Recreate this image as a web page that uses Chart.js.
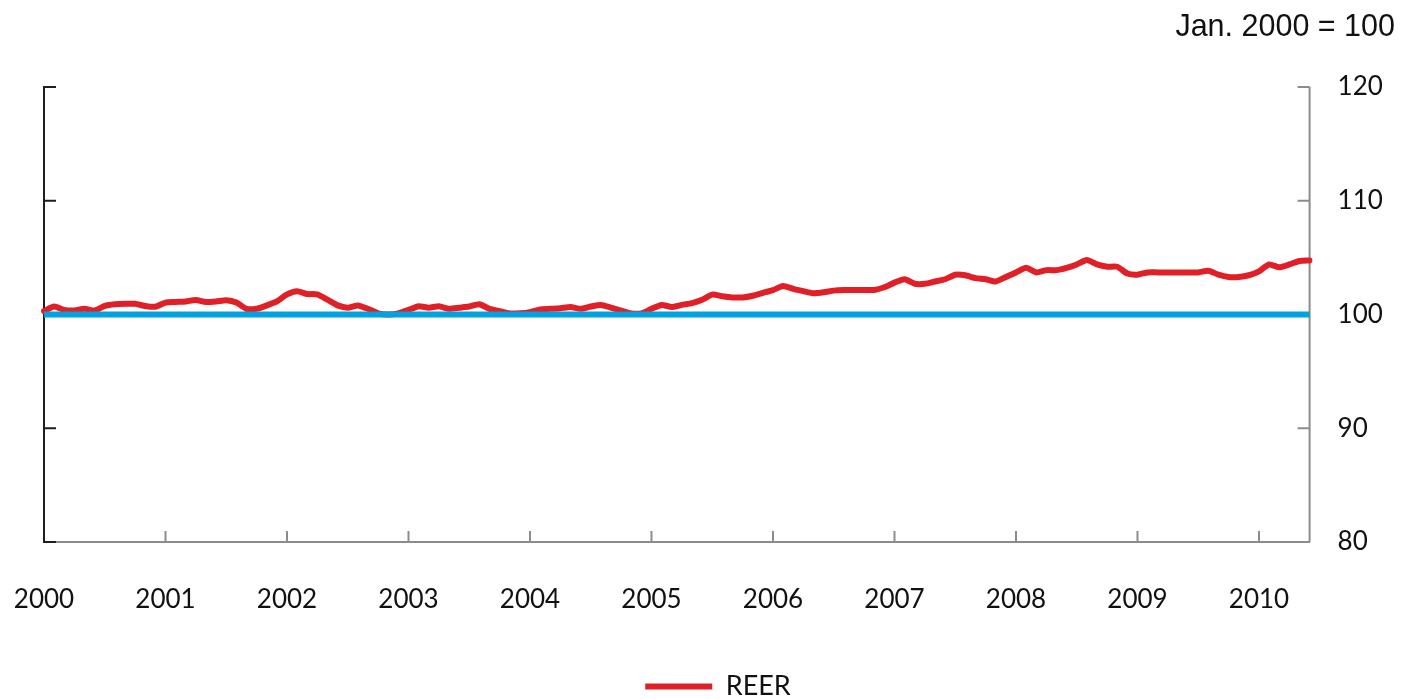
<!DOCTYPE html>
<html><head><meta charset="utf-8">
<script src="https://cdn.jsdelivr.net/npm/chart.js@4.4.1/dist/chart.umd.min.js"></script>
<style>html,body{margin:0;padding:0;background:#fff;} #wrap{width:1406px;height:699px;position:relative;}</style>
</head><body><div id="wrap"><canvas id="c" width="1406" height="699"></canvas></div>
<script>
// ---- data ----
const years = ['2000','2001','2002','2003','2004','2005','2006','2007','2008','2009','2010'];
const lastMonthOf2010 = 6; // data runs to June 2010
const unitNote = 'Jan. 2000 = 100';
const yTicks = [80, 90, 100, 110, 120];
const baseLevel = 100;

// REER, monthly, Jan 2000 - Jun 2010
const reer = [
  100.3,100.7,100.4,100.35,100.5,100.35,100.75,100.9,100.94,100.94,100.75,100.68,
  101.05,101.1,101.15,101.27,101.1,101.15,101.25,101.05,100.5,100.5,100.8,101.15,
  101.77,102.05,101.8,101.77,101.3,100.8,100.6,100.8,100.5,100.1,100.0,100.1,
  100.4,100.73,100.6,100.73,100.5,100.6,100.7,100.9,100.5,100.3,100.1,100.1,
  100.2,100.45,100.5,100.55,100.66,100.5,100.7,100.84,100.6,100.35,100.1,100.1,
  100.5,100.84,100.66,100.85,101.0,101.3,101.75,101.6,101.5,101.5,101.65,101.9,
  102.15,102.5,102.25,102.05,101.87,101.95,102.1,102.16,102.16,102.16,102.16,102.4,
  102.8,103.1,102.7,102.7,102.9,103.1,103.5,103.45,103.2,103.1,102.9,103.3,
  103.7,104.1,103.7,103.9,103.9,104.1,104.4,104.8,104.4,104.2,104.2,103.6,
  103.5,103.7,103.7,103.7,103.7,103.7,103.7,103.85,103.5,103.3,103.3,103.45,
  103.8,104.4,104.15,104.4,104.7,104.75
];

// month categories
const months = [];
years.forEach((yr, yi) => {
  const n = (yi === years.length - 1) ? lastMonthOf2010 : 12;
  for (let m = 1; m <= n; m++) months.push(yr + '-' + String(m).padStart(2, '0'));
});

// baseline (Jan. 2000 = 100) drawn from first to last month
const baseline = [
  { x: months[0], y: baseLevel },
  { x: months[months.length - 1], y: baseLevel }
];

const TICK_FONT = { family: 'Lato', size: 26 };

const axisPlugin = {
  id: 'axesLines',
  beforeDatasetsDraw(chart) {
    const { ctx, chartArea: a, scales: { x, y } } = chart;
    const line = (x1, y1, x2, y2) => { ctx.beginPath(); ctx.moveTo(x1, y1); ctx.lineTo(x2, y2); ctx.stroke(); };
    ctx.save();
    ctx.lineWidth = 2;
    ctx.strokeStyle = '#8c8c8c';
    line(a.left, a.bottom, a.right, a.bottom);
    line(a.right, a.top, a.right, a.bottom);
    x.ticks.forEach((t, i) => {
      if (i % 12 === 0 && i > 0) { const px = x.getPixelForTick(i); line(px, a.bottom, px, a.bottom - 11); }
    });
    y.ticks.forEach(t => { const py = y.getPixelForValue(t.value); line(a.right, py, a.right - 12, py); });
    ctx.strokeStyle = '#1e1e1e';
    line(a.left, a.top, a.left, a.bottom + 1);
    y.ticks.forEach(t => { const py = y.getPixelForValue(t.value); line(a.left - 1, py, a.left + 12, py); });
    ctx.restore();
  }
};

const notePlugin = {
  id: 'unitNote',
  afterDraw(chart) {
    const { ctx } = chart;
    ctx.save();
    ctx.font = '30.5px "Liberation Sans", Arial, sans-serif';
    ctx.fillStyle = '#111';
    ctx.textAlign = 'right';
    ctx.textBaseline = 'middle';
    ctx.fillText(unitNote, chart.width - 11, 28);
    ctx.restore();
  }
};

new Chart(document.getElementById('c'), {
  type: 'line',
  data: {
    labels: months,
    datasets: [
      { label: 'base', data: baseline, borderColor: '#00a3e0', backgroundColor: '#00a3e0',
        borderWidth: 6, pointRadius: 0, order: 0, borderCapStyle: 'butt' },
      { label: 'REER', data: reer, borderColor: '#e11f26', backgroundColor: '#e11f26',
        borderWidth: 6, pointRadius: 0, tension: 0.2, order: 1,
        borderJoinStyle: 'round', borderCapStyle: 'round' }
    ]
  },
  options: {
    responsive: false, animation: false, devicePixelRatio: 1,
    layout: { padding: { top: 87, left: 44, right: 14, bottom: -11 } },
    plugins: {
      legend: {
        position: 'bottom',
        labels: {
          filter: item => item.text === 'REER',
          boxWidth: 67, boxHeight: 6, padding: 2, color: '#111', font: { family: 'Lato', size: 27 },
          generateLabels: chart => chart.data.datasets.map((d, i) => ({
            text: d.label, fillStyle: d.borderColor, strokeStyle: d.borderColor,
            lineWidth: 0, hidden: false, datasetIndex: i, fontColor: '#111'
          }))
        }
      },
      tooltip: { enabled: false }
    },
    scales: {
      x: {
        type: 'category', offset: false,
        grid: { display: false, drawTicks: false }, border: { display: false },
        ticks: {
          autoSkip: false, maxRotation: 0, minRotation: 0, padding: 42, color: '#111', font: TICK_FONT,
          callback: (v, i) => (i % 12 === 0 ? months[i].slice(0, 4) : '')
        },
        afterFit: s => { s.height = 129; s.paddingLeft = 0; s.paddingRight = 0; }
      },
      y: {
        position: 'right', min: 80, max: 120,
        ticks: { stepSize: 10, padding: 28, color: '#111', font: TICK_FONT },
        grid: { display: false, drawTicks: false }, border: { display: false },
        afterFit: s => { s.width = 82.4; }
      }
    }
  },
  plugins: [axisPlugin, notePlugin]
});
</script>
</body></html>
